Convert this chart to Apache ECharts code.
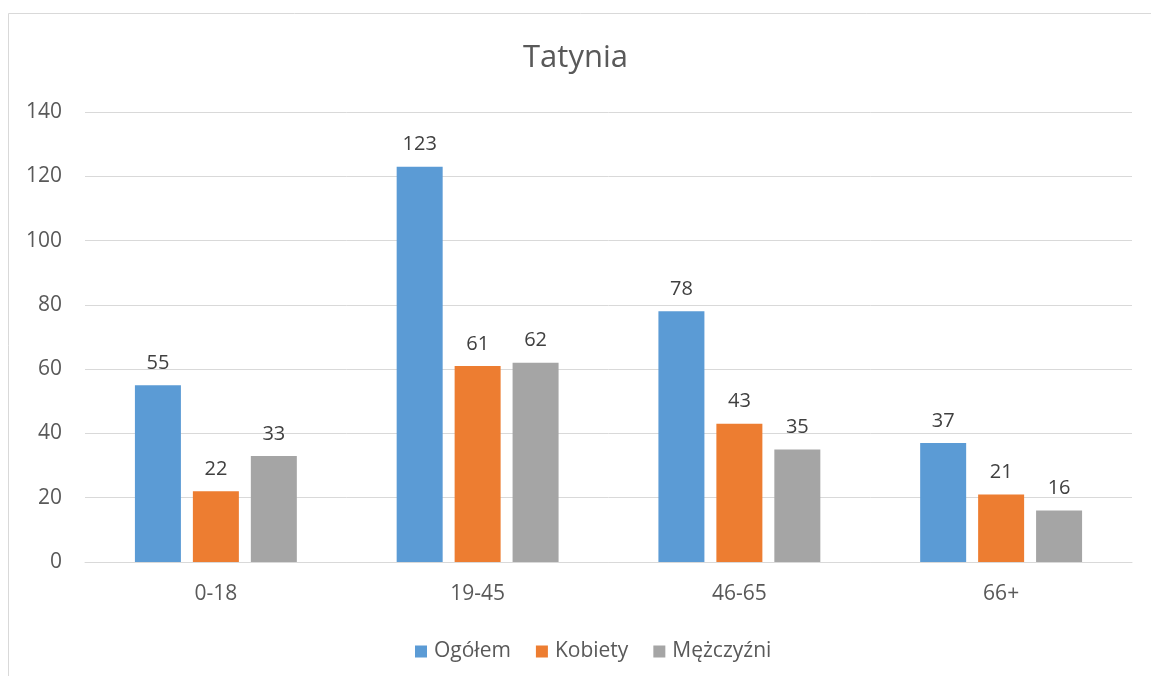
<!DOCTYPE html>
<html>
<head>
<meta charset="utf-8">
<script src="https://cdn.jsdelivr.net/npm/echarts@6/dist/echarts.min.js"></script>
<style>
html,body{margin:0;padding:0;background:#fff;}
#chart{width:1151px;height:676px;}
</style>
</head>
<body>
<div id="chart"></div>
<script>
const categories = ['0-18', '19-45', '46-65', '66+'];
const ogolem = [55, 123, 78, 37];
const kobiety = [22, 61, 43, 21];
const mezczyzni = [33, 62, 35, 16];
const seriesNames = ['Ogółem', 'Kobiety', 'Mężczyźni'];
const yTicks = [0, 20, 40, 60, 80, 100, 120, 140];

const FONT = '"Open Sans", "Noto Sans", sans-serif';
const colors = ['#5B9BD5', '#ED7D31', '#A5A5A5'];

const chart = echarts.init(document.getElementById('chart'), null, {renderer: 'canvas'});
const label = {
  show: true, position: 'top', distance: 12,
  color: '#404040', fontFamily: FONT, fontSize: 20
};
function mk(name, data, i) {
  return {
    name: name, type: 'bar', data: data,
    barWidth: 46, barGap: '26%',
    itemStyle: {color: colors[i]},
    label: label,
    emphasis: {disabled: true}
  };
}
chart.setOption({
  animation: false,
  backgroundColor: '#fff',
  graphic: [{
    type: 'rect', silent: true,
    shape: {x: 8.5, y: 13.5, width: 1200, height: 700},
    style: {fill: 'none', stroke: '#d9d9d9', lineWidth: 1}
  }],
  title: {
    text: 'Tatynia', left: 'center', top: 38,
    textStyle: {fontFamily: FONT, fontSize: 31, fontWeight: 'normal', color: '#595959'}
  },
  legend: {
    data: seriesNames, left: 410, top: 636,
    itemWidth: 12, itemHeight: 12, itemGap: 25,
    icon: 'rect',
    textStyle: {fontFamily: FONT, fontSize: 21, color: '#595959', padding: [0, 0, 0, 2]}
  },
  grid: {left: 85, right: 19, top: 112, bottom: 114, containLabel: false},
  xAxis: {
    type: 'category', data: categories,
    axisLine: {lineStyle: {color: '#d9d9d9', width: 1}},
    axisTick: {show: false},
    axisLabel: {fontFamily: FONT, fontSize: 21, color: '#595959', margin: 22}
  },
  yAxis: {
    type: 'value', min: yTicks[0], max: yTicks[yTicks.length - 1], interval: 20,
    axisLine: {show: false}, axisTick: {show: false},
    splitLine: {lineStyle: {color: '#d9d9d9', width: 1}},
    axisLabel: {fontFamily: FONT, fontSize: 21, color: '#595959', margin: 23}
  },
  series: [mk(seriesNames[0], ogolem, 0), mk(seriesNames[1], kobiety, 1), mk(seriesNames[2], mezczyzni, 2)]
});
</script>
</body>
</html>
